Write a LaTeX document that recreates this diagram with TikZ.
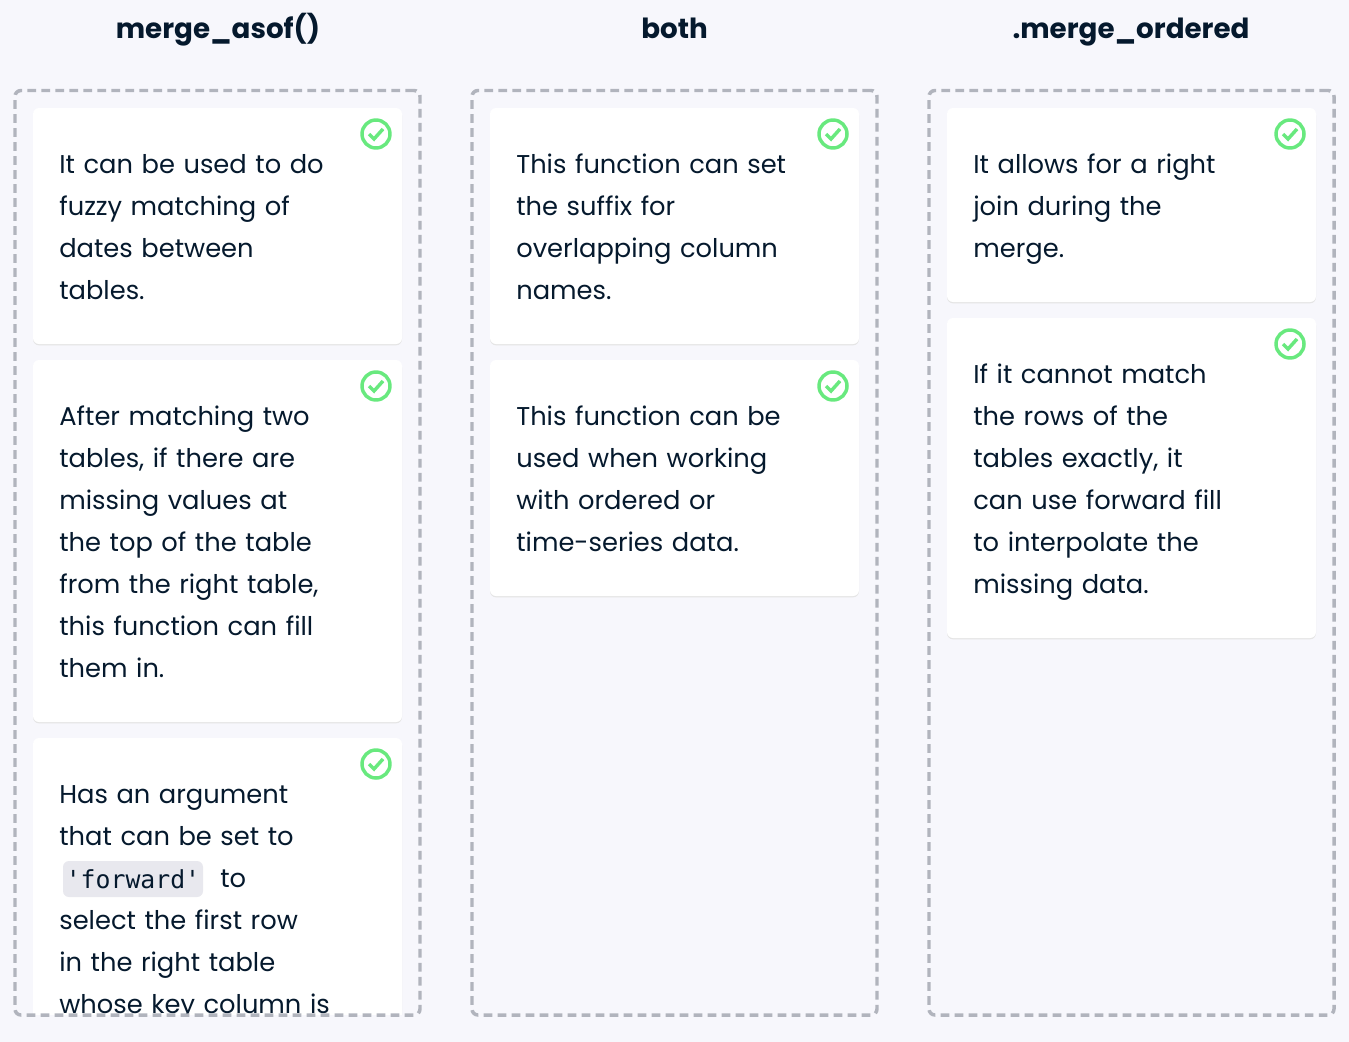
\documentclass[tikz,border=0pt]{standalone}
\usepackage{fontspec}
\setmainfont{Poppins}
\newfontfamily\codefont{DejaVu Sans Mono}
\usetikzlibrary{positioning,shadows}

\definecolor{pagebg}{HTML}{F7F7FC}
\definecolor{inkblue}{HTML}{05192D}
\definecolor{lanegray}{HTML}{B1B4BD}
\definecolor{tickgreen}{HTML}{68E97E}
\definecolor{chipgray}{HTML}{E8E8EE}

\tikzset{
    heading/.style={text=inkblue, text height=15.5pt, text depth=5pt, inner sep=0pt,
        font=\fontsize{20.8}{26}\selectfont\bfseries},
    lane/.style={draw=lanegray, line width=2.6pt, dash pattern=on 6.5pt off 4pt,
        rounded corners=4.5pt, minimum width=303.75pt, minimum height=693.4pt, outer sep=0pt},
    card/.style={fill=white, rounded corners=4.5pt, outer sep=0pt, inner xsep=19.75pt, inner ysep=0pt,
        text width=237.25pt, align=left, text=inkblue,
        font=\fontsize{19.3}{31.5}\selectfont,
        execute at begin node=\rule{0pt}{25pt}, execute at end node=\strut,
        copy shadow={draw=none, fill=black!10, shadow xshift=0pt, shadow yshift=-1pt}},
    tick/.style={circle, draw=tickgreen, line width=2.6pt, minimum size=21pt, inner sep=0pt},
    tickmark/.style={draw=tickgreen, line width=2.6pt},
    chip/.style={fill=chipgray, rounded corners=4.5pt, minimum width=105pt, minimum height=27pt,
        inner sep=0pt, text=inkblue, font=\codefont\fontsize{18.6}{20}\selectfont},
}

\begin{document}
\begin{tikzpicture}[x=.75pt, y=-.75pt]
    \useasboundingbox[fill=pagebg] (0,0) rectangle (1349,1042);

    \node[heading] (titleAsof) at (218,31) {merge\_asof()};
    \node[heading] (titleBoth) at (674.5,31) {both};
    \node[heading] (titleOrdered) at (1131,31) {.merge\_ordered};

    % left column runs past the bottom of its lane
    \begin{scope}
        \clip (0,0) rectangle (1349,1014);
        \node[card, minimum height=177pt, anchor=north] (asofA) at (217.5,108)
            {It can be used to do\\fuzzy matching of\\dates between\\tables.};
        \node[card, minimum height=271.5pt, below=12pt of asofA] (asofB)
            {After matching two\\tables, if there are\\missing values at\\the top of the table\\from the right table,\\this function can fill\\them in.};
        \node[card, minimum height=240pt, below=12pt of asofB] (asofC)
            {Has an argument\\that can be set to\\\hspace*{120.75pt}to\\select the first row\\in the right table\\whose key column is};
    \end{scope}
    \node[chip] (chipForward) at (133,879) {'forward'};

    \node[card, minimum height=177pt, anchor=north] (bothA) at (674.5,108)
        {This function can set\\the suffix for\\overlapping column\\names.};
    \node[card, minimum height=177pt, below=12pt of bothA] (bothB)
        {This function can be\\used when working\\with ordered or\\time-series data.};

    \node[card, minimum height=145.5pt, anchor=north] (orderedA) at (1131.5,108)
        {It allows for a right\\join during the\\merge.};
    \node[card, minimum height=240pt, below=12pt of orderedA] (orderedB)
        {If it cannot match\\the rows of the\\tables exactly, it\\can use forward fill\\to interpolate the\\missing data.};

    \foreach \cardname in {asofA,asofB,asofC,bothA,bothB,orderedA,orderedB} {
        \node[tick] (tick\cardname) at ([shift={(-26,26)}]\cardname.north east) {};
        \draw[tickmark] ([shift={(-7,0)}]tick\cardname.center) -- ([shift={(-2,5)}]tick\cardname.center)
            -- ([shift={(7,-5)}]tick\cardname.center);
    }

    \node[lane] (laneAsof) at (217.5,552.75) {};
    \node[lane] (laneBoth) at (674.5,552.75) {};
    \node[lane] (laneOrdered) at (1131.5,552.75) {};
\end{tikzpicture}
\end{document}
